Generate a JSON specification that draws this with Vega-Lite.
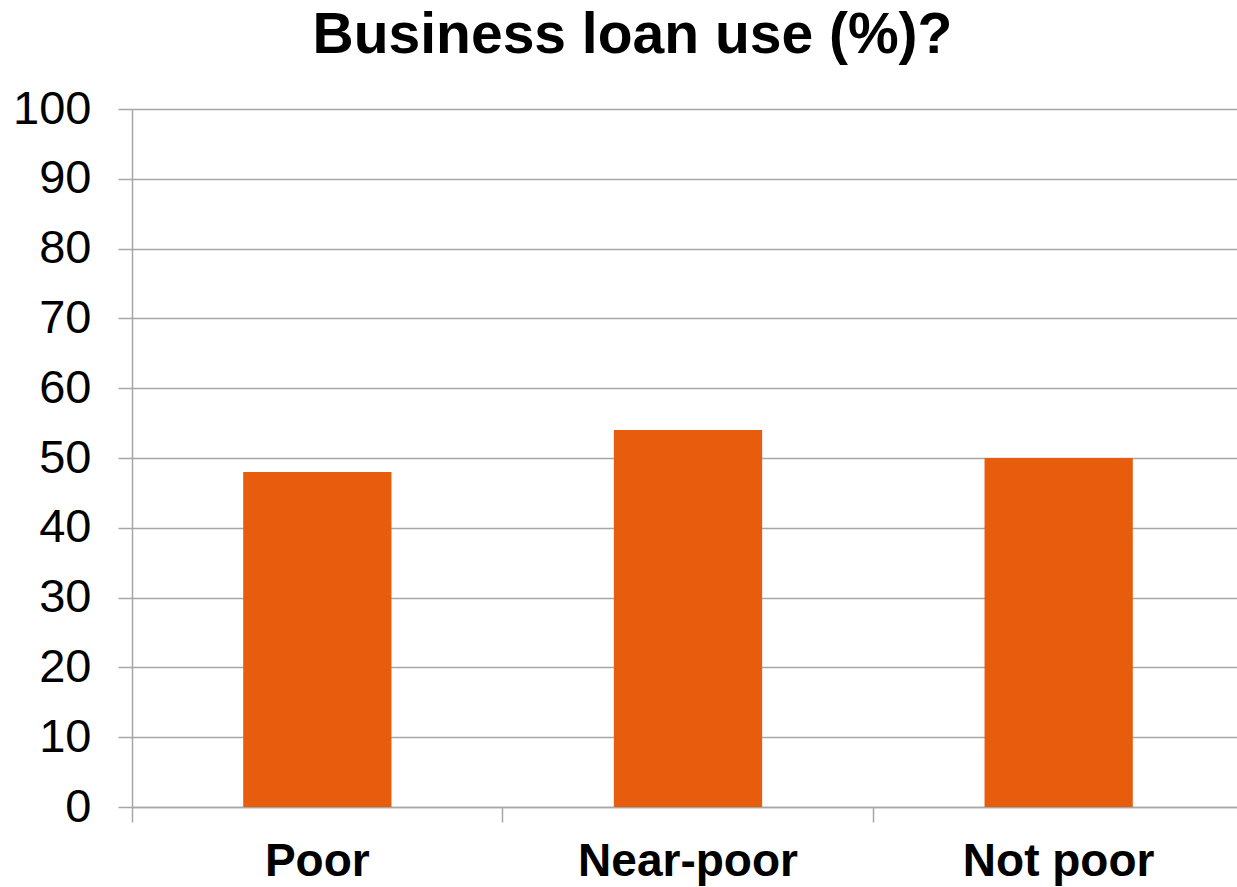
{
  "$schema": "https://vega.github.io/schema/vega-lite/v6.json",
  "autosize": {"type": "none"},
  "width": 1105,
  "height": 698,
  "padding": {"left": 132, "top": 109, "right": 0, "bottom": 80},
  "background": "white",
  "title": {
    "text": "Business loan use (%)?",
    "font": "Liberation Sans",
    "fontSize": 57,
    "fontWeight": "bold",
    "color": "black",
    "anchor": "middle",
    "dx": -52,
    "offset": 20
  },
  "data": {
    "values": [
      {"group": "Poor", "value": 48},
      {"group": "Near-poor", "value": 54},
      {"group": "Not poor", "value": 50}
    ]
  },
  "mark": {"type": "bar", "color": "#E85C0D", "width": {"band": 0.4}},
  "encoding": {
    "x": {
      "field": "group",
      "type": "nominal",
      "sort": null,
      "scale": {"paddingInner": 0, "paddingOuter": 0, "range": [0, 1112]},
      "axis": {
        "title": null,
        "labelAngle": 0,
        "labelFont": "Liberation Sans",
        "labelFontSize": 46,
        "labelFontWeight": "bold",
        "labelColor": "black",
        "labelPadding": 17,
        "labelLimit": 0,
        "bandPosition": 0,
        "tickSize": 15,
        "tickColor": "#a6a6a6",
        "tickWidth": 1.5,
        "domainColor": "#a6a6a6",
        "domainWidth": 1.5,
        "grid": false
      }
    },
    "y": {
      "field": "value",
      "type": "quantitative",
      "scale": {"domain": [0, 100], "nice": false},
      "axis": {
        "title": null,
        "values": [0, 10, 20, 30, 40, 50, 60, 70, 80, 90, 100],
        "labelFont": "Liberation Sans",
        "labelFontSize": 47,
        "labelColor": "black",
        "labelPadding": 27,
        "tickSize": 14,
        "tickColor": "#a6a6a6",
        "tickWidth": 1.5,
        "domainColor": "#a6a6a6",
        "domainWidth": 1.5,
        "grid": true,
        "gridColor": "#a6a6a6",
        "gridWidth": 1.5
      }
    }
  },
  "config": {"view": {"stroke": null}}
}
